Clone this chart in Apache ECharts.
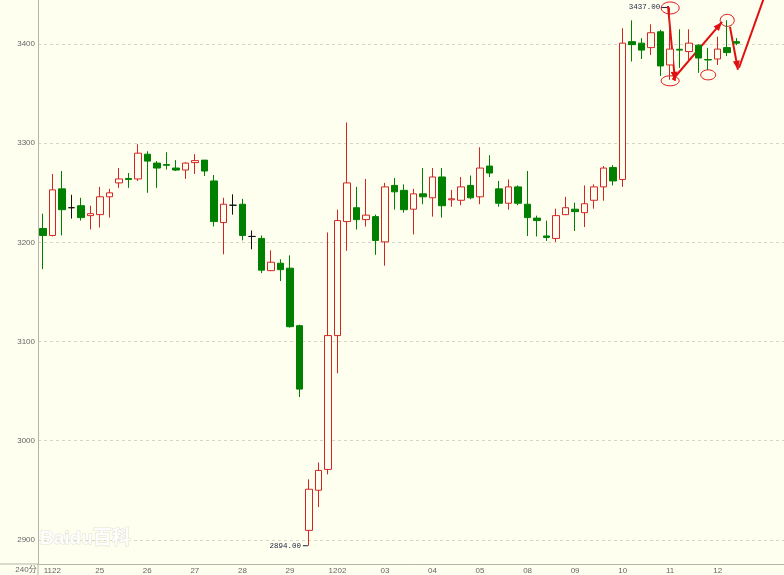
<!DOCTYPE html>
<html><head><meta charset="utf-8">
<script src="https://cdn.jsdelivr.net/npm/echarts@6/dist/echarts.min.js"></script>
<style>html,body{margin:0;padding:0;background:#fffff0;overflow:hidden;width:784px;height:575px;}#c{width:789px;height:575px;}</style>
</head><body><div id="c"></div>
<script>
// ---- data ----
const periodLabel = '240分';
const dayLabels = ['1122','25','26','27','28','29','1202','03','04','05','08','09','10','11','12'];
const opens  = [3214,3207,3254,3235,3237,3227,3228,3246,3260,3264.5,3264,3289,3280,3278.5,3275,3273,3280.5,3283,3262,3220,3237.5,3238.5,3206,3204,3171.5,3179,3174,3116,2909.5,2950,2971,3106,3221,3235,3223,3226,3200.5,3257.5,3252.5,3233.5,3249,3245,3266,3243,3242.5,3257.5,3246,3277,3254,3239.5,3256,3238.5,3224.5,3206.5,3204,3228,3233.5,3230,3242.5,3256,3275.5,3263.5,3402.5,3401,3396.5,3412.5,3379,3394.8,3392.5,3399,3384.5,3385,3396.5,3402.5];
const closes = [3207,3253,3233,3235,3225,3229,3246,3250,3264,3263.5,3290,3282,3275,3277.8,3273,3280,3282.5,3272,3221,3238.5,3237.5,3207,3206,3172,3180,3172.5,3115,3052,2951,2970,3106,3222,3260,3223,3227.5,3202,3256,3251,3233,3249,3246,3266,3237,3244,3256,3245,3275,3270,3239.5,3256,3239.5,3225,3222,3205,3227,3235,3231,3239,3256,3275,3262,3401,3399.5,3394,3411.5,3378,3395,3394,3401,3386,3384,3395,3391.5,3401];
const lows   = [3173,3206,3207,3224,3222,3213,3215,3225,3255,3255,3262,3250,3255,3273.5,3272,3264,3269,3267,3216,3188,3228,3202,3193,3169,3171,3161,3114,3044,2894,2933,2966,3068,3191.5,3213,3216,3187.5,3176.5,3233,3230,3208,3238.5,3226,3225,3236,3237.5,3243.5,3238.5,3266,3236,3233,3237.5,3206.5,3206,3201.5,3200.5,3227.5,3211.5,3215.5,3234,3242,3257.5,3256,3382.5,3385,3389,3368,3364,3376,3382.5,3371,3374,3379,3388,3399];
const highs  = [3229,3269,3272,3248,3245,3237,3256,3254,3275,3270,3299,3292,3282,3291,3283,3281,3289,3283,3268,3245,3248.5,3244,3212,3207,3192,3183,3187,3117,2961,2978,3210,3233,3321,3256,3264,3228,3260,3265,3258.5,3254,3275,3275,3275,3253,3266,3267.5,3296,3288,3262,3263.5,3257.5,3272,3227,3222,3234,3246,3240,3257.5,3258.5,3277,3278,3416,3424,3406,3420,3414.5,3437,3415,3415,3400,3396,3407.5,3424,3406];
const highMark = {index: 66, value: 3437, text: '3437.00'};
const lowMark  = {index: 28, value: 2894, text: '2894.00'};
const watermark = 'Baidu百科';

// ---- build ----
const SLOTS = 79, PER_DAY = 5;
const Y_MIN = 2875.57, Y_MAX = 3444.53;
const candles = opens.map((o, i) => [o, closes[i], lows[i], highs[i]]);
const categories = Array.from({length: SLOTS}, (_, i) => 'c' + i);
const labelAt = i => { const k = i - 1; return (k >= 0 && k % PER_DAY === 0 && k / PER_DAY < dayLabels.length) ? dayLabels[k / PER_DAY] : ''; };

const BG = '#fffff0';
const FONT = 'Liberation Sans, Noto Sans CJK SC, sans-serif';
const chart = echarts.init(document.getElementById('c'));
chart.setOption({
  backgroundColor: BG,
  animation: false,
  grid: {left: 38, right: 0, top: 0, bottom: 9},
  xAxis: {
    type: 'category', data: categories, boundaryGap: true,
    axisLine: {lineStyle: {color: '#b4b4a8', width: 1}},
    axisTick: {show: false},
    axisLabel: {interval: 0, margin: 3, fontSize: 8, color: '#666', fontFamily: FONT,
      formatter: (v, i) => labelAt(i)},
    splitLine: {show: false}
  },
  yAxis: {
    type: 'value', min: Y_MIN, max: Y_MAX, splitNumber: 5, scale: true,
    axisLine: {show: true, lineStyle: {color: '#b4b4a8', width: 1}},
    axisTick: {show: false},
    axisLabel: {margin: 3, fontSize: 8, color: '#666', fontFamily: FONT, showMinLabel: false, showMaxLabel: false,
      formatter: v => (Math.abs(v % 100) < 1e-6 ? String(v) : '')},
    splitLine: {show: true, showMinLine: false, showMaxLine: false, lineStyle: {color: '#d6d6c8', type: [3, 3], width: 1}}
  },
  series: [{
    type: 'candlestick', data: candles, barWidth: 7,
    itemStyle: {color: BG, color0: '#008000', borderColor: '#d42424', borderColor0: '#008000', borderColorDoji: '#111', borderWidth: 1}
  }]
});

// ---- annotations anchored to data ----
const P = (i, v) => chart.convertToPixel({gridIndex: 0}, [i, v]);
const x0 = P(0, 3000)[0], step = P(1, 3000)[0] - x0;
const PF = (fi, v) => [x0 + fi * step, P(0, v)[1]];
const RED = '#e01010';
const g = [];
const origin = P(0, Y_MIN);
// extra axis segments
g.push({type: 'line', shape: {x1: 0, y1: origin[1], x2: 38, y2: origin[1]}, style: {stroke: '#b4b4a8', lineWidth: 1}});
g.push({type: 'line', shape: {x1: 38, y1: origin[1], x2: 38, y2: 575}, style: {stroke: '#b4b4a8', lineWidth: 1}});
g.push({type: 'text', style: {text: periodLabel, x: 26, y: origin[1] + 6, align: 'center', verticalAlign: 'middle', font: '8px ' + FONT, fill: '#666'}});
// high/low marks
const hp = P(highMark.index, highMark.value);
g.push({type: 'text', style: {text: highMark.text, x: hp[0] - 10, y: hp[1], align: 'right', verticalAlign: 'middle', font: '7.5px Liberation Mono, monospace', fill: '#1a2440'}});
g.push({type: 'line', shape: {x1: hp[0] - 9, y1: hp[1], x2: hp[0] - 2, y2: hp[1]}, style: {stroke: '#1a2440', lineWidth: 1}});
const lp = P(lowMark.index, lowMark.value);
g.push({type: 'text', style: {text: lowMark.text, x: lp[0] - 8, y: lp[1], align: 'right', verticalAlign: 'middle', font: '7.5px Liberation Mono, monospace', fill: '#1a2440'}});
g.push({type: 'line', shape: {x1: lp[0] - 6, y1: lp[1], x2: lp[0] - 1, y2: lp[1]}, style: {stroke: '#1a2440', lineWidth: 1}});
// watermark
g.push({type: 'text', z: 0, style: {text: watermark, x: 40, y: 539, verticalAlign: 'middle', font: 'bold 19px ' + FONT, fill: 'rgba(255,255,255,0.85)', stroke: '#e2e2d6', lineWidth: 1}});
// circles
[[66, 3436.5, 9, 6], [66, 3363, 9, 5], [70, 3369, 7.5, 5], [72, 3424, 7, 6]].forEach(([i, v, rx, ry]) => {
  const p = P(i, v);
  g.push({type: 'ellipse', shape: {cx: p[0], cy: p[1], rx: rx, ry: ry}, style: {fill: null, stroke: RED, lineWidth: 1}});
});
// arrows
const arrows = [[65.77, 3438.5, 66.51, 3363.1, true], [66.25, 3364.1, 71.46, 3422.4, true], [72.29, 3417.4, 73.13, 3374.2, true], [73.24, 3376.2, 76.1, 3453, false]];
arrows.forEach(([a, va, b, vb, head]) => {
  const s = PF(a, va), e = PF(b, vb);
  g.push({type: 'line', shape: {x1: s[0], y1: s[1], x2: e[0], y2: e[1]}, style: {stroke: RED, lineWidth: 2}});
  if (head) {
    const ang = Math.atan2(e[1] - s[1], e[0] - s[0]), L = 9, W = 3.5;
    const bx = e[0] - L * Math.cos(ang), by = e[1] - L * Math.sin(ang);
    g.push({type: 'polygon', shape: {points: [e, [bx + W * Math.sin(ang), by - W * Math.cos(ang)], [bx - W * Math.sin(ang), by + W * Math.cos(ang)]]}, style: {fill: RED}});
  }
});
chart.setOption({graphic: g});
</script></body></html>
